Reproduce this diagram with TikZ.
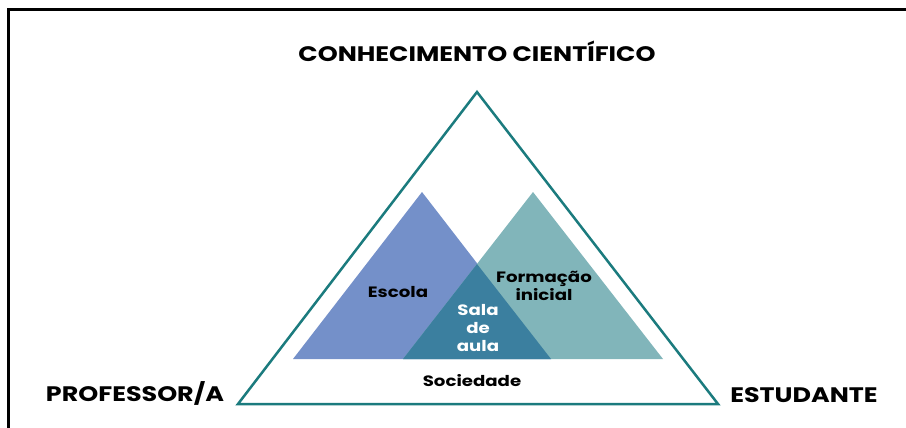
\documentclass[tikz,border=0pt]{standalone}
\usepackage{fontspec}
\setmainfont{Poppins}[FakeStretch=1.21]

\definecolor{tealline}{HTML}{1B7B7E}
\definecolor{escolablue}{HTML}{7490C9}
\definecolor{formteal}{HTML}{81B5BA}
\definecolor{salablue}{HTML}{3B7F9F}

\tikzset{
    lbl/.style={font=\bfseries\fontsize{15}{18}\selectfont, align=center, inner sep=0pt},
    biglbl/.style={font=\bfseries\fontsize{21}{21}\selectfont, inner sep=0pt}
}

\begin{document}
\begin{tikzpicture}[x=1pt, y=-1pt]
    \useasboundingbox (0, 0) rectangle (906, 428);
    \draw[line width=3pt] (8, 428) -- (8, 10) -- (906, 10);

    \draw[tealline, line width=2.5pt] (477, 92) -- (718, 404) -- (238, 404) -- cycle;

    \fill[escolablue] (293, 359) -- (422, 192) -- (551, 359) -- cycle;
    \fill[formteal] (403, 359) -- (533, 192) -- (663, 359) -- cycle;
    \fill[salablue] (403, 359) -- (477, 264) -- (551, 359) -- cycle;

    \node[biglbl] (ciencia) at (477, 51) {CONHECIMENTO CIENTÍFICO};
    \node[biglbl] (prof) at (135, 393) {PROFESSOR/A};
    \node[biglbl] (estud) at (804, 395) {ESTUDANTE};

    \node[lbl] (soc) at (472, 381) {Sociedade};
    \node[lbl] (escola) at (398, 292) {Escola};
    \node[lbl] (formacao) at (544, 286) {Formação\\inicial};
    \node[lbl, text=white] (sala) at (478, 328) {Sala\\de\\aula};
\end{tikzpicture}
\end{document}
